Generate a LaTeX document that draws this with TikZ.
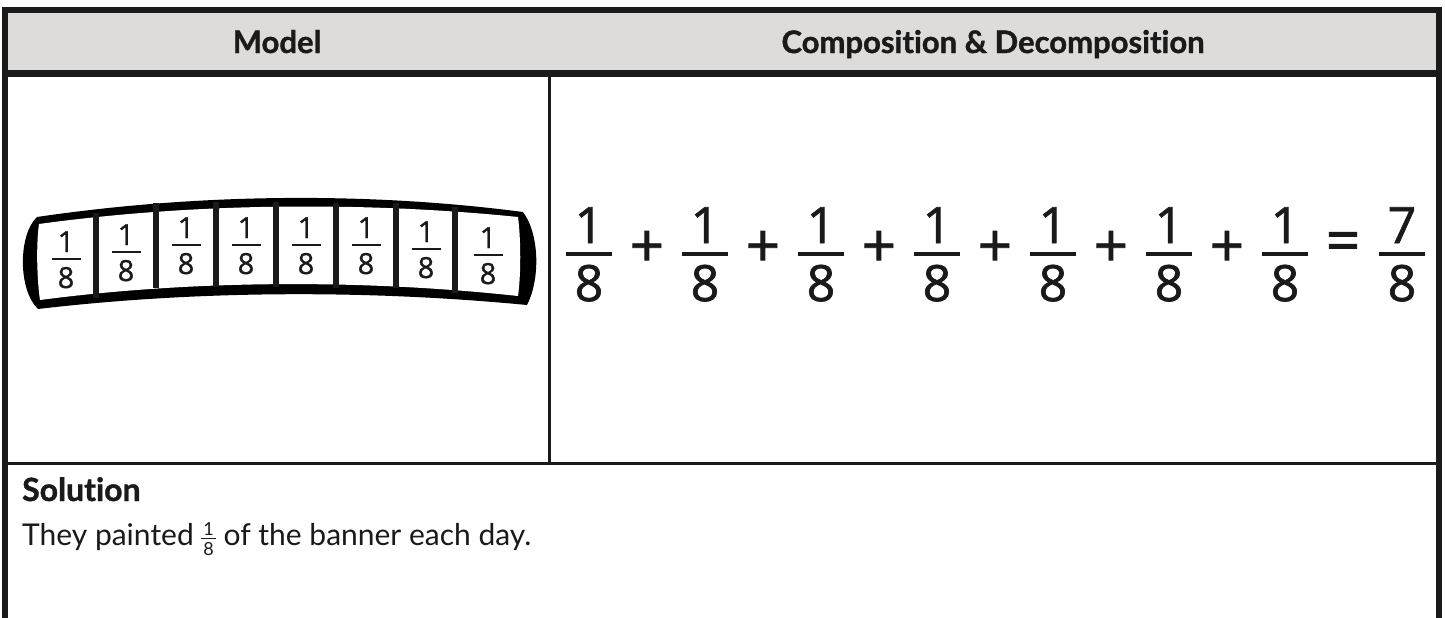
\documentclass[tikz,border=0pt]{standalone}
\usepackage{fontspec}
\setmainfont{Lato}[Ligatures={NoCommon}, BoldFeatures={FakeBold=1.2}]
\newfontfamily\digitfont{Open Sans}[FakeBold=1.4]
\newfontfamily\smalldigitfont{Open Sans}[FakeBold=1]
\definecolor{ink}{HTML}{1A1A1A}
\definecolor{headgray}{HTML}{DDDCDB}
\newsavebox{\fracnumbox}
\newsavebox{\fracdenbox}
\newlength{\fracwd}
\newcommand{\inlinefrac}[2]{{\fontsize{18}{18}\selectfont
  \sbox{\fracnumbox}{#1}\sbox{\fracdenbox}{#2}%
  \setlength{\fracwd}{\wd\fracnumbox}%
  \ifdim\wd\fracdenbox>\fracwd\setlength{\fracwd}{\wd\fracdenbox}\fi
  \addtolength{\fracwd}{4pt}%
  \raisebox{-10pt}{\vbox{\hbox to\fracwd{\hss\usebox{\fracnumbox}\hss}\kern2.5pt
    \hrule height 1.3pt\kern2.5pt
    \hbox to\fracwd{\hss\usebox{\fracdenbox}\hss}}}}}
\begin{document}
\begin{tikzpicture}[x=1pt,y=-1pt,
  frameline/.style={draw=ink, line width=6pt},
  thinline/.style={draw=ink, line width=3pt},
  head/.style={font=\fontsize{31}{36}\selectfont\bfseries, text=ink, anchor=base, inner sep=0pt},
  bignum/.style={font=\digitfont\fontsize{50}{60}\selectfont, text=ink, anchor=base, inner sep=0pt},
  smallnum/.style={font=\smalldigitfont\fontsize{29}{34}\selectfont, text=ink, anchor=base, inner sep=0pt},
  opsign/.style={font=\digitfont\fontsize{60}{70}\selectfont, text=ink, anchor=center, inner sep=0pt},
  bigbar/.style={draw=ink, line width=4pt},
  smallbar/.style={draw=ink, line width=2.8pt},
  bodytext/.style={font=\fontsize{30}{36}\selectfont, text=ink, anchor=base west, inner sep=0pt}
]
\useasboundingbox (0,0) rectangle (1445,618);
\fill[white] (0,0) rectangle (1445,618);
% header band
\fill[headgray] (5,10) rectangle (1439,73.5);
% inner rules
\draw[thinline] (549,76) -- (549,463);
\draw[thinline] (5,463) -- (1439,463);
% frame
\draw[frameline, line join=miter] (5,618) -- (5,10) -- (1439,10) -- (1439,618);
\draw[frameline] (2,73.5) -- (1442,73.5);
% headers
\node[head] (hmodel) at (277,53) {Model};
\node[head] (hcomp) at (993,53) {Composition \& Decomposition};
% banner
\fill[black] (37,217) .. controls (200,193) and (370,192) .. (523,212)
  .. controls (540,235) and (540,280) .. (527,305)
  .. controls (370,290) and (200,290) .. (38,309)
  .. controls (18,290) and (18,235) .. (37,217) -- cycle;
\fill[white] (39,224) .. controls (200,202) and (370,202) .. (518,217)
  .. controls (521,240) and (521,275) .. (518,296)
  .. controls (370,280) and (200,279) .. (40,300)
  .. controls (37,280) and (36,245) .. (39,224) -- cycle;
\foreach \dx/\ya/\yb in {96/213/298, 156/203/288, 216/202/287, 276/202/287, 336/203/288, 396/203/288, 455/207/293}
  \fill[ink] (\dx-2.75,\ya) rectangle (\dx+2.75,\yb);
\foreach \cx/\by [count=\i] in {66/259, 126/252, 186/245, 246/245, 306/245, 366/245, 426/249, 488/255} {
  \node[smallnum] (bn\i) at (\cx,\by-7) {1};
  \node[smallnum] (bd\i) at (\cx,\by+29) {8};
  \draw[smallbar] (\cx-14.5,\by) -- (\cx+14.5,\by);
}
% equation
\foreach \cx [count=\i] in {589,705,821,937,1053,1169,1285} {
  \node[bignum] (en\i) at (\cx,243) {1};
  \node[bignum] (ed\i) at (\cx,301) {8};
  \draw[bigbar] (\cx-23,254) -- (\cx+23,254);
}
\node[bignum] (rn) at (1402,243) {7};
\node[bignum] (rd) at (1402,301) {8};
\draw[bigbar] (1379,254) -- (1425,254);
\foreach \px [count=\i] in {647,763,879,995,1111,1227}
  \node[opsign] (plus\i) at (\px,249) {+};
\node[opsign] (eq) at (1343,247) {=};
% solution
\node[bodytext, font=\fontsize{32}{38}\selectfont\bfseries] (soltitle) at (22,501) {Solution};
\node[bodytext] (soltext) at (22,545) {They painted \inlinefrac{1}{8} of the banner each day.};
\end{tikzpicture}
\end{document}
